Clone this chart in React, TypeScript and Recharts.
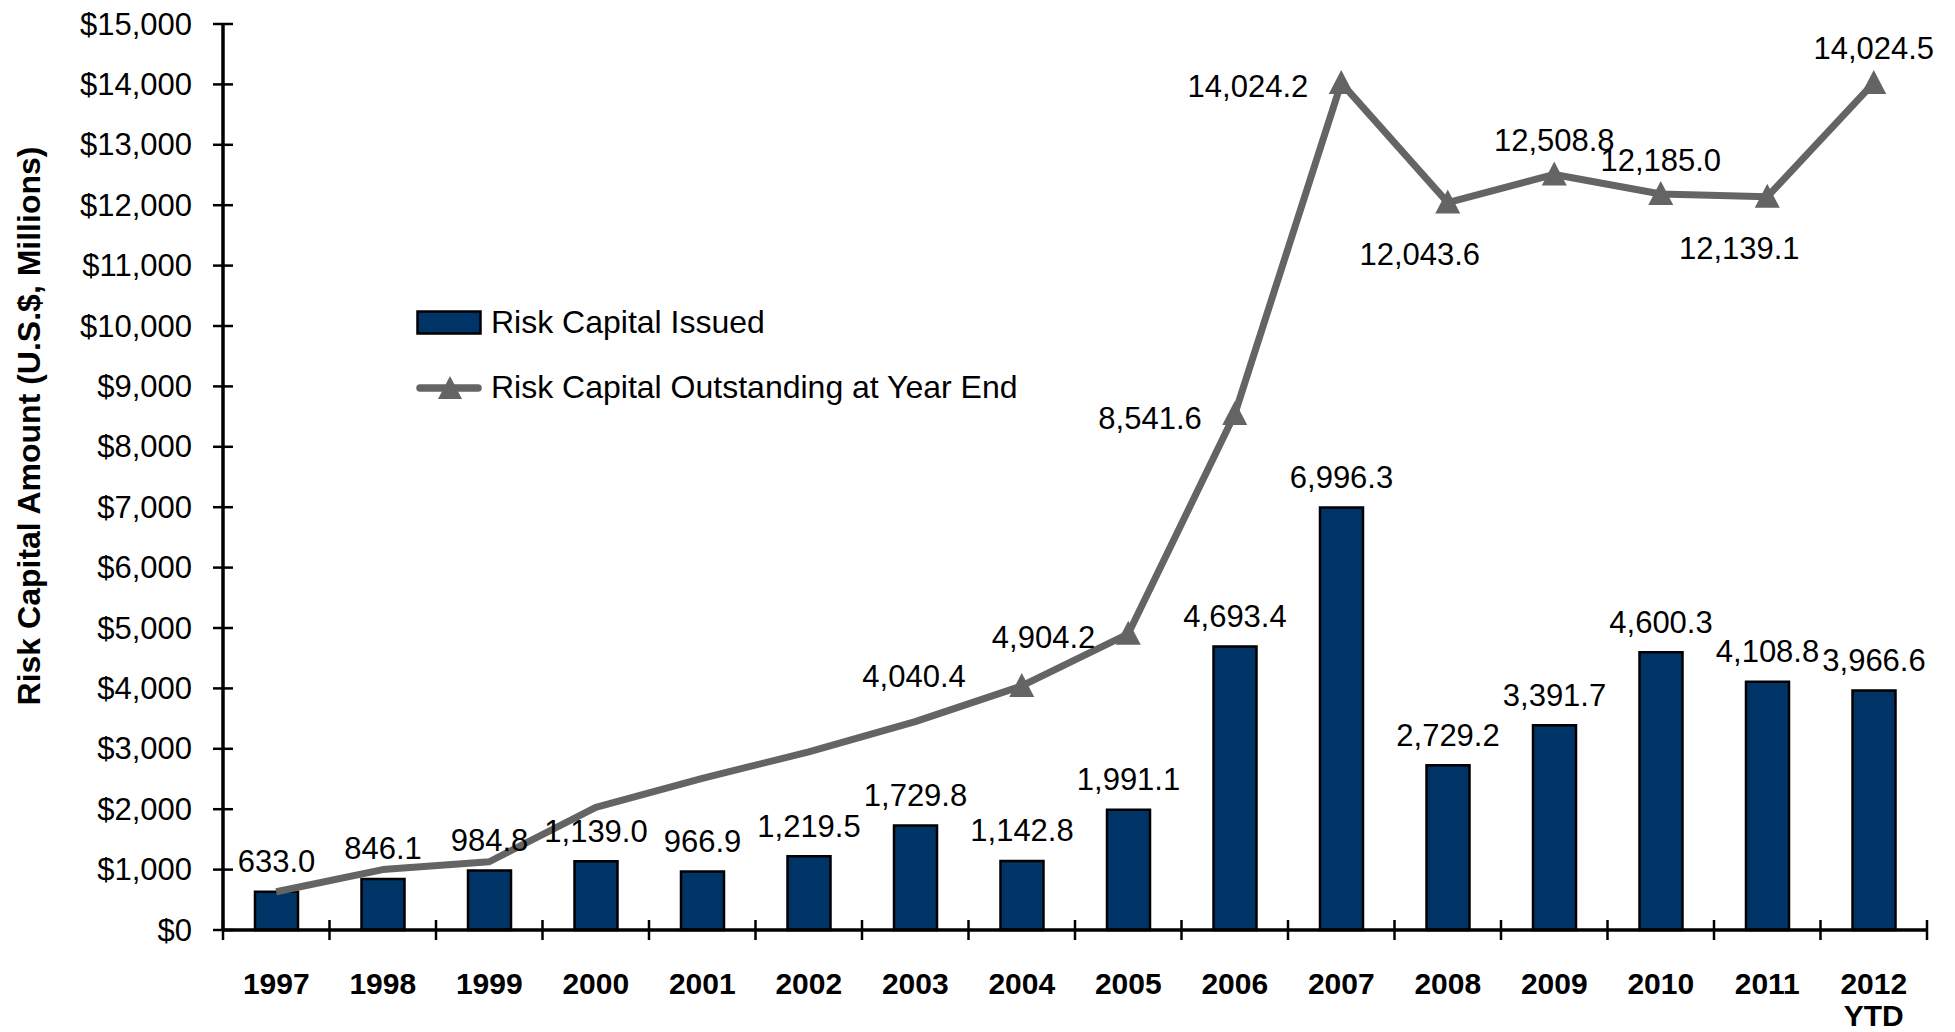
import { ComposedChart, Bar, Line, XAxis, YAxis, Legend, LabelList, Label } from "recharts"

// ── Data ──────────────────────────────────────────────────────
const years = [
  "1997", "1998", "1999", "2000", "2001", "2002", "2003", "2004",
  "2005", "2006", "2007", "2008", "2009", "2010", "2011", "2012 YTD",
]
const issued = [
  633.0, 846.1, 984.8, 1139.0, 966.9, 1219.5, 1729.8, 1142.8,
  1991.1, 4693.4, 6996.3, 2729.2, 3391.7, 4600.3, 4108.8, 3966.6,
]
const outstanding = [
  633.0, 1000, 1130, 2030, 2510, 2950, 3450, 4040.4,
  4904.2, 8541.6, 14024.2, 12043.6, 12508.8, 12185.0, 12139.1, 14024.5,
]
// where the outstanding label sits ("" = no label, no marker)
const outstandingLabelSpot = [
  "", "", "", "", "", "", "", "farLeft",
  "left", "left", "left", "below", "above", "above", "below", "above",
]
const yTicks = [
  0, 1000, 2000, 3000, 4000, 5000, 6000, 7000,
  8000, 9000, 10000, 11000, 12000, 13000, 14000, 15000,
]

const data = years.map((year, i) => ({
  year,
  issued: issued[i],
  outstanding: outstanding[i],
}))

// ── Layout / style ────────────────────────────────────────────
const W = 1955
const H = 1032
const MARGIN = { top: 24, right: 28, bottom: 0, left: 0 }
const Y_AXIS_W = 223
const X_AXIS_H = 102
const BAND = (W - MARGIN.left - MARGIN.right - Y_AXIS_W) / years.length

const FONT = "'Liberation Sans', Arial, Helvetica, sans-serif"
const BAR_FILL = "#003366"
const LINE_GREY = "#646464"

const fmt = (v: number) =>
  v.toLocaleString("en-US", { minimumFractionDigits: 1, maximumFractionDigits: 1 })

// ── Ticks ─────────────────────────────────────────────────────
function YTick({ x, y, payload }: { x: number; y: number; payload: { value: number } }) {
  return (
    <g>
      <line x1={x - 10} x2={x + 10} y1={y} y2={y} stroke="#000" strokeWidth={2.5} />
      <text
        x={x - 31}
        y={y}
        textAnchor="end"
        dominantBaseline="central"
        fontFamily={FONT}
        fontSize={31}
        fill="#000"
      >
        {"$" + payload.value.toLocaleString("en-US")}
      </text>
    </g>
  )
}

function XTick({
  x,
  y,
  payload,
  index,
}: {
  x: number
  y: number
  payload: { value: string }
  index: number
}) {
  const parts = String(payload.value).split(" ")
  const last = index === years.length - 1
  return (
    <g>
      <line x1={x - BAND / 2} x2={x - BAND / 2} y1={y - 10} y2={y + 10} stroke="#000" strokeWidth={2.5} />
      {last && (
        <line x1={x + BAND / 2} x2={x + BAND / 2} y1={y - 10} y2={y + 10} stroke="#000" strokeWidth={2.5} />
      )}
      {parts.map((p, k) => (
        <text
          key={k}
          x={x}
          y={y + 53 + k * 32}
          textAnchor="middle"
          dominantBaseline="central"
          fontFamily={FONT}
          fontWeight="bold"
          fontSize={30}
          fill="#000"
        >
          {p}
        </text>
      ))}
    </g>
  )
}

// ── Labels & markers ──────────────────────────────────────────
function BarValueLabel(props: any) {
  const { x, y, width, value } = props
  return (
    <text
      x={Number(x) + Number(width) / 2}
      y={Number(y) - 30}
      textAnchor="middle"
      dominantBaseline="central"
      fontFamily={FONT}
      fontSize={31}
      fill="#000"
    >
      {fmt(Number(value))}
    </text>
  )
}

function OutstandingLabel(props: any) {
  const { x, y, value, index } = props
  const spot = outstandingLabelSpot[index]
  if (!spot) return null
  let tx = Number(x)
  let ty = Number(y)
  let anchor: "start" | "middle" | "end" = "middle"
  if (spot === "left") {
    tx -= 33
    ty += 4
    anchor = "end"
  } else if (spot === "farLeft") {
    tx -= 56
    ty -= 9
    anchor = "end"
  } else if (spot === "above") {
    ty -= 34
  } else if (spot === "below") {
    tx -= 28
    ty += 52
  }
  return (
    <text
      x={tx}
      y={ty}
      textAnchor={anchor}
      dominantBaseline="central"
      fontFamily={FONT}
      fontSize={31}
      fill="#000"
    >
      {fmt(Number(value))}
    </text>
  )
}

function TriangleDot(props: any) {
  const { cx, cy, index } = props
  if (!outstandingLabelSpot[index]) return <g key={`d${index}`} />
  return (
    <path
      key={`d${index}`}
      d={`M${cx},${cy - 13} L${cx + 12.5},${cy + 11} L${cx - 12.5},${cy + 11} Z`}
      fill={LINE_GREY}
    />
  )
}

// ── Legend ────────────────────────────────────────────────────
function LegendBox() {
  const row = { display: "flex", alignItems: "center", height: 65 } as const
  return (
    <div style={{ fontFamily: FONT, fontSize: 32, color: "#000", whiteSpace: "nowrap" }}>
      <div style={row}>
        <svg width={75} height={30} style={{ display: "block" }}>
          <rect x={1.5} y={3.5} width={63} height={22} fill={BAR_FILL} stroke="#000" strokeWidth={2.5} />
        </svg>
        <span>Risk Capital Issued</span>
      </div>
      <div style={row}>
        <svg width={75} height={30} style={{ display: "block" }}>
          <line x1={4} x2={62} y1={15} y2={15} stroke={LINE_GREY} strokeWidth={7.5} strokeLinecap="round" />
          <path d="M34,3 L46,26 L22,26 Z" fill={LINE_GREY} />
        </svg>
        <span>Risk Capital Outstanding at Year End</span>
      </div>
    </div>
  )
}

export default function App() {
  return (
    <div style={{ position: "absolute", left: 0, top: 0, width: W, height: H, background: "#fff" }}>
      <ComposedChart width={W} height={H} data={data} margin={MARGIN}>
        <XAxis
          dataKey="year"
          height={X_AXIS_H}
          interval={0}
          tickSize={0}
          tickMargin={0}
          tickLine={false}
          axisLine={{ stroke: "#000", strokeWidth: 3.5 }}
          tick={(p: any) => <XTick {...p} />}
        />
        <YAxis
          width={Y_AXIS_W}
          domain={[0, 15000]}
          ticks={yTicks}
          interval={0}
          tickSize={0}
          tickMargin={0}
          tickLine={false}
          axisLine={{ stroke: "#000", strokeWidth: 3.5 }}
          tick={(p: any) => <YTick {...p} />}
        >
          <Label
            content={() => (
              <text
                transform="translate(29,426) rotate(-90)"
                textAnchor="middle"
                dominantBaseline="central"
                fontFamily={FONT}
                fontWeight="bold"
                fontSize={32}
                fill="#000"
              >
                Risk Capital Amount (U.S.$, Millions)
              </text>
            )}
          />
        </YAxis>
        <Legend
          layout="horizontal"
          verticalAlign="middle"
          align="center"
          content={() => <LegendBox />}
          wrapperStyle={{ left: 416, top: 290, width: 760, height: 130 }}
        />
        <Bar
          dataKey="issued"
          name="Risk Capital Issued"
          fill={BAR_FILL}
          stroke="#000"
          strokeWidth={2.5}
          barSize={43}
          isAnimationActive={false}
        >
          <LabelList dataKey="issued" content={BarValueLabel} />
        </Bar>
        <Line
          dataKey="outstanding"
          name="Risk Capital Outstanding at Year End"
          type="linear"
          stroke={LINE_GREY}
          strokeWidth={7}
          strokeLinejoin="round"
          dot={TriangleDot}
          activeDot={false}
          isAnimationActive={false}
        >
          <LabelList dataKey="outstanding" content={OutstandingLabel} />
        </Line>
      </ComposedChart>
    </div>
  )
}
